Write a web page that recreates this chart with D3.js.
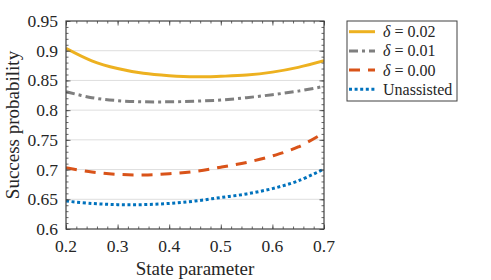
<!DOCTYPE html>
<html><head><meta charset="utf-8">
<script src="https://cdn.jsdelivr.net/npm/d3@7"></script>
<style>body{margin:0;background:#fff}svg{display:block}text{font-family:"Liberation Serif","Times New Roman",serif;fill:#262626}</style>
</head><body><svg id="c" width="491" height="280"></svg>
<script>
const xVals = [0.2,0.25,0.3,0.35,0.4,0.45,0.5,0.55,0.6,0.65,0.7];
const yD002 = [0.904,0.883,0.870,0.862,0.858,0.856,0.857,0.859,0.864,0.872,0.883];
const yD001 = [0.831,0.821,0.816,0.814,0.814,0.815,0.817,0.821,0.826,0.832,0.840];
const yD000 = [0.703,0.696,0.692,0.691,0.693,0.697,0.704,0.712,0.723,0.738,0.762];
const yUna  = [0.647,0.643,0.641,0.641,0.643,0.647,0.653,0.659,0.668,0.681,0.701];
const seriesNames = ["δ = 0.02","δ = 0.01","δ = 0.00","Unassisted"];
const xTicks = [0.2,0.3,0.4,0.5,0.6,0.7];
const yTicks = [0.6,0.65,0.7,0.75,0.8,0.85,0.9,0.95];

const colors = ["#EDB120","#7F7F7F","#D95319","#0072BD"];
const dashes = [null,"9,4,3,4","11,8","3,2.6"];
const series = [yD002,yD001,yD000,yUna];

const svg = d3.select("#c");
const L=66,R=324,T=21,B=229;
const x = d3.scaleLinear().domain([0.2,0.7]).range([L,R]);
const y = d3.scaleLinear().domain([0.6,0.95]).range([B,T]);
const axc="#404040";

// grid
svg.append("g").selectAll("line").data(yTicks.slice(1,-1)).join("line")
  .attr("x1",L).attr("x2",R).attr("y1",d=>y(d)).attr("y2",d=>y(d))
  .attr("stroke","#dedede").attr("stroke-width",1);

// curves
const line = d3.line().x((d,i)=>x(xVals[i])).y(d=>y(d)).curve(d3.curveCatmullRom.alpha(0.5));
svg.append("clipPath").attr("id","cp").append("rect").attr("x",L).attr("y",T).attr("width",R-L).attr("height",B-T);
series.forEach((s,k)=>{
  svg.append("path").attr("d",line(s)).attr("fill","none").attr("stroke",colors[k])
    .attr("stroke-width",3).attr("stroke-dasharray",dashes[k]).attr("clip-path","url(#cp)");
});

// axes with minor ticks
const minorX = d3.range(0.2,0.7001,0.02);
const minorY = d3.range(0.6,0.9501,0.01);
function ticks(g){
  const add=(axis,vals,size,tr)=>g.append("g").call(axis.tickValues(vals).tickSize(-size).tickFormat("")).attr("transform",tr);
  [[minorX,2.5],[xTicks,4.5]].forEach(([v,s])=>{
    add(d3.axisBottom(x),v,s,`translate(0,${B})`);
    add(d3.axisTop(x),v,s,`translate(0,${T})`);
  });
  [[minorY,2.5],[yTicks,4.5]].forEach(([v,s])=>{
    add(d3.axisLeft(y),v,s,`translate(${L},0)`);
    add(d3.axisRight(y),v,s,`translate(${R},0)`);
  });
  g.selectAll(".domain").remove();
  g.selectAll("line").attr("stroke",axc).attr("stroke-width",0.8);
}
ticks(svg.append("g"));
svg.append("rect").attr("x",L).attr("y",T).attr("width",R-L).attr("height",B-T)
  .attr("fill","none").attr("stroke",axc).attr("stroke-width",1.2);

// tick labels
svg.append("g").selectAll("text").data(xTicks).join("text")
  .attr("x",d=>x(d)).attr("y",251.5).attr("text-anchor","middle").attr("font-size","17.5px")
  .text(d=>d3.format(".1f")(d));
svg.append("g").selectAll("text").data(yTicks).join("text")
  .attr("x",58).attr("y",d=>y(d)+6).attr("text-anchor","end").attr("font-size","17.5px")
  .text(d=>String(+d.toFixed(2)));

// titles
svg.append("text").attr("x",195).attr("y",275).attr("text-anchor","middle").attr("font-size","19px").text("State parameter");
svg.append("text").attr("transform","translate(19,125) rotate(-90)").attr("text-anchor","middle").attr("font-size","19px").text("Success probability");

// legend
const lg = svg.append("g");
lg.append("rect").attr("x",347).attr("y",21).attr("width",110).attr("height",80)
  .attr("fill","#fff").attr("stroke",axc).attr("stroke-width",1);
seriesNames.forEach((n,k)=>{
  const yy = 31.7 + k*19.2;
  lg.append("line").attr("x1",349).attr("x2",375).attr("y1",yy).attr("y2",yy)
    .attr("stroke",colors[k]).attr("stroke-width",3).attr("stroke-dasharray",dashes[k]);
  const t = lg.append("text").attr("x",383).attr("y",yy+5.5).attr("font-size","16px");
  if(n.startsWith("δ")){
    t.append("tspan").attr("font-style","italic").text("δ");
    t.append("tspan").text(n.slice(1));
  } else t.text(n);
});
</script></body></html>
